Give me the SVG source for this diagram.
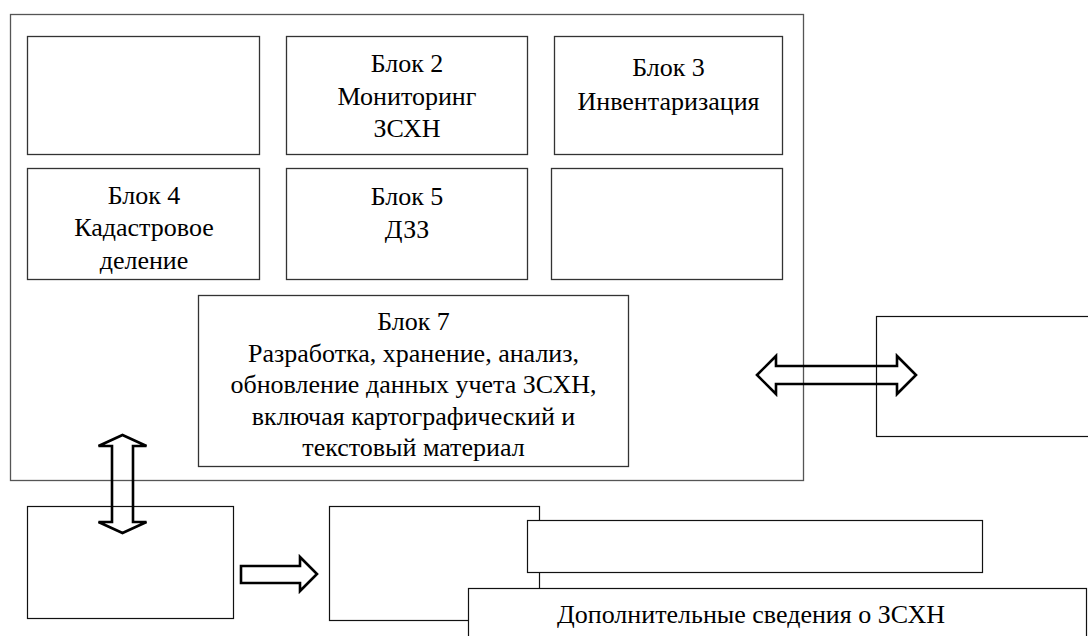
<svg xmlns="http://www.w3.org/2000/svg" width="1088" height="636" viewBox="0 0 1088 636" font-family="Liberation Serif, Times New Roman, DejaVu Serif, serif">
<style>
.box{fill:#fff;stroke:#333;stroke-width:1.3}
.outer{fill:#fff;stroke:#555;stroke-width:1.3}
.bx{fill:#fff;stroke:#111;stroke-width:1.2}
.arr{fill:none;stroke:#000;stroke-width:2.6;stroke-linejoin:miter}
.t{font-family:'Liberation Serif','Times New Roman','DejaVu Serif',serif;font-size:26px;fill:#000;text-anchor:middle}
</style>
<rect width="1088" height="636" fill="#fff"/>
<g id="outer"><rect class="outer" x="10.5" y="14.5" width="793" height="466"/></g>
<g id="block1"><rect class="box" x="27.5" y="36.5" width="232" height="118"/></g>
<g id="block2"><rect class="box" x="286.5" y="36.5" width="241" height="118"/>
<text class="t" x="407" y="72">Блок 2</text><text class="t" x="407" y="104.5">Мониторинг</text><text class="t" x="407" y="137">ЗСХН</text></g>
<g id="block3"><rect class="box" x="554.5" y="36.5" width="228" height="118"/>
<text class="t" x="668.5" y="76">Блок 3</text><text class="t" x="668.5" y="110">Инвентаризация</text></g>
<g id="block4"><rect class="box" x="27.5" y="168.5" width="232" height="111"/>
<text class="t" x="144" y="203.5">Блок 4</text><text class="t" x="144" y="236">Кадастровое</text><text class="t" x="144" y="268.5">деление</text></g>
<g id="block5"><rect class="box" x="286.5" y="168.5" width="241" height="111"/>
<text class="t" x="407" y="205">Блок 5</text><text class="t" x="407" y="237.5">ДЗЗ</text></g>
<g id="block6"><rect class="box" x="551.5" y="168.5" width="231" height="111"/></g>
<g id="block7"><rect class="box" x="198.5" y="295.5" width="430" height="171"/>
<text class="t" x="413.5" y="330">Блок 7</text><text class="t" x="413.5" y="361.5">Разработка, хранение, анализ,</text><text class="t" x="413.5" y="393">обновление данных учета ЗСХН,</text><text class="t" x="413.5" y="424.5">включая картографический и</text><text class="t" x="413.5" y="456">текстовый материал</text></g>
<g id="right"><rect class="bx" x="876.5" y="316.5" width="220" height="120"/></g>
<g id="bottomleft"><rect class="bx" x="27.5" y="506.5" width="206" height="112"/></g>
<g id="bottommid"><rect class="bx" x="329.5" y="506.5" width="210" height="114"/></g>
<g id="bar"><rect class="bx" x="527.5" y="520.5" width="455" height="52"/></g>
<g id="extra"><rect class="bx" x="468.5" y="588.5" width="618" height="60"/>
<text class="t" x="751" y="623">Дополнительные сведения о ЗСХН</text></g>
<g id="connectors">
<polygon class="arr" points="757,375 776,356 776,366 897,366 897,356 916,375 897,394 897,384 776,384 776,394"/>
<polygon class="arr" points="122.5,435 146.5,446 133,446 133,522 146.5,522 122.5,533 98.5,522 112,522 112,446 98.5,446"/>
<polygon class="arr" points="241,566 300,566 300,557 317,574 300,591 300,583 241,583"/>
</g>
</svg>
